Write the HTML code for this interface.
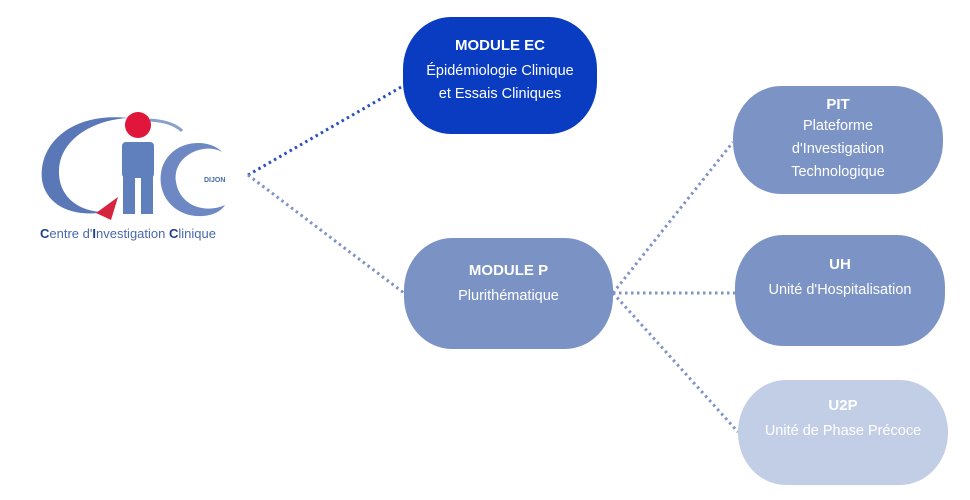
<!DOCTYPE html>
<html><head><meta charset="utf-8"><style>
body{margin:0;background:#fff;width:970px;height:500px;overflow:hidden;position:relative;font-family:"Liberation Sans",sans-serif}
.b{position:absolute;border-radius:48px/52px;color:#fff;text-align:center;box-sizing:border-box}
.b b{display:block;font-size:15px;margin-bottom:6px}
.b span{font-size:14.5px;line-height:23px}
</style></head><body>
<svg width="970" height="500" style="position:absolute;left:0;top:0">
<g stroke-dasharray="2.5 3.5" stroke-width="3" fill="none">
<line x1="248" y1="175" x2="403" y2="86" stroke="#2a4fc0"/>
<line x1="248" y1="175" x2="404" y2="293" stroke="#7e93c6"/>
<line x1="613" y1="293" x2="733" y2="142" stroke="#7e93c6"/>
<line x1="613" y1="293" x2="735" y2="293" stroke="#7e93c6"/>
<line x1="613" y1="293" x2="738" y2="432" stroke="#7e93c6"/>
</g>
<!-- logo -->
<path d="M128 118 C70 112 38 145 42 180 C46 205 72 218 105 212 C78 212 58 196 59 170 C60 140 92 120 128 118Z" fill="#5a78b8"/>
<path d="M150 120 C165 121 176 125 182 131" stroke="#8aa0cc" stroke-width="3" fill="none"/>
<path d="M96 213 L118 197 L111 220Z" fill="#d5243e"/>
<rect x="122" y="142" width="32" height="36" rx="4" fill="#5f7fbd"/>
<rect x="123" y="174" width="12" height="40" fill="#5f7fbd"/><rect x="141" y="174" width="12" height="40" fill="#5f7fbd"/>
<circle cx="138" cy="125" r="13" fill="#e0163a"/>
<path d="M222 152 C210 138 172 138 162 168 C155 195 175 218 203 216 C215 215 222 210 225 205 C205 214 180 206 176 182 C172 155 205 142 222 152Z" fill="#6d88c2"/>
<text x="204" y="182" font-size="7" font-weight="bold" fill="#4a68ad">DIJON</text>
<text x="40" y="238" font-size="13" fill="#4a68ad"><tspan font-weight="bold" fill="#1f3f95">C</tspan>entre d'<tspan font-weight="bold" fill="#1f3f95">I</tspan>nvestigation <tspan font-weight="bold" fill="#1f3f95">C</tspan>linique</text>
</svg>
<div class="b" style="left:403px;top:17px;width:194px;height:117px;background:#0a3cc2;padding-top:20px"><b>MODULE EC</b><span>Épidémiologie Clinique<br>et Essais Cliniques</span></div>
<div class="b" style="left:404px;top:238px;width:209px;height:111px;background:#7b93c4;padding-top:24px"><b>MODULE P</b><span>Plurithématique</span></div>
<div class="b" style="left:733px;top:86px;width:210px;height:108px;background:#7c93c5;padding-top:10px"><b style="margin-bottom:2px">PIT</b><span>Plateforme<br>d'Investigation<br>Technologique</span></div>
<div class="b" style="left:735px;top:235px;width:210px;height:111px;background:#7c93c5;padding-top:21px"><b>UH</b><span>Unité d'Hospitalisation</span></div>
<div class="b" style="left:738px;top:380px;width:210px;height:105px;background:#c2cde6;padding-top:17px"><b>U2P</b><span>Unité de Phase Précoce</span></div>
</body></html>
